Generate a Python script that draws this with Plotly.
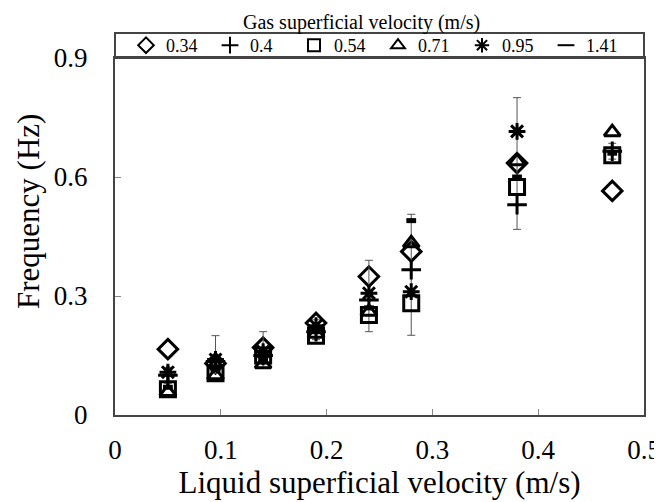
import plotly.graph_objects as go

# Liquid superficial velocity (m/s)
x_liquid = [0.05, 0.095, 0.14, 0.19, 0.24, 0.28, 0.38, 0.47]

# Frequency (Hz) for each gas superficial velocity
f_034 = [0.166, 0.13, 0.17, 0.232, 0.349, 0.412, 0.635, 0.565]
f_040 = [0.10, 0.135, 0.15, 0.21, 0.29, 0.366, 0.53, 0.665]
f_054 = [0.065, 0.105, 0.15, 0.20, 0.252, 0.282, 0.575, 0.655]
f_071 = [0.058, 0.10, 0.128, 0.205, 0.26, 0.433, 0.64, 0.713]
f_095 = [0.108, 0.14, 0.16, 0.225, 0.307, 0.311, 0.715, None]
f_141 = [0.07, 0.115, 0.14, 0.21, 0.27, 0.49, 0.60, 0.66]

# error bars (upper / lower)
err_plus = [0.02, 0.065, 0.06, 0.03, 0.10, 0.14, 0.27, 0.02]
err_minus = [0.02, 0.03, 0.03, 0.02, 0.08, 0.165, 0.062, 0.02]

series_names = ["0.34", "0.4", "0.54", "0.71", "0.95", "1.41"]
x_ticks = [0, 0.1, 0.2, 0.3, 0.4, 0.5]
y_ticks = [0, 0.3, 0.6, 0.9]

FONT = "Liberation Serif"
W, H = 654, 494  # page body adds an 8px offset
fig = go.Figure()

styles = [
    (f_034, "diamond-open", 15, 3),
    (f_040, "cross-thin-open", 14, 3),
    (f_054, "square-open", 15, 3),
    (f_071, "triangle-up-open", 14, 3),
    (f_095, "asterisk-open", 14, 3),
    (f_141, "line-ew-open", 7, 5),
]

for i, (vals, sym, sz, lw) in enumerate(styles):
    kw = {}
    if i == 1:
        kw["error_y"] = dict(type="data", symmetric=False, array=err_plus,
                             arrayminus=err_minus, color="#555555",
                             thickness=1, width=4)
    fig.add_trace(go.Scatter(
        x=x_liquid, y=vals, mode="markers", name=series_names[i],
        marker=dict(symbol=sym, size=sz, color="black",
                    line=dict(color="black", width=lw)),
        **kw))

fig.update_layout(
    width=W, height=H,
    margin=dict(l=107, r=18, t=50, b=87, autoexpand=False),
    paper_bgcolor="white", plot_bgcolor="white",
    font=dict(family=FONT, color="black"),
    showlegend=True,
    legend=dict(orientation="h", xref="container", yref="container",
                x=(126 - 8) / W, y=1 - (45.5 - 8) / H, xanchor="left", yanchor="middle",
                font=dict(family=FONT, size=18), entrywidth=39,
                bgcolor="rgba(0,0,0,0)", borderwidth=0,
                itemsizing="constant", tracegroupgap=0),
    xaxis=dict(range=[0, 0.5], tickvals=x_ticks,
               ticktext=["0", "0.1", "0.2", "0.3", "0.4", "0.5"],
               ticks="inside", ticklen=6, tickcolor="#888888",
               showline=True, linecolor="#444444", linewidth=2, mirror=True,
               showgrid=False, zeroline=False, automargin=False,
               ticklabelstandoff=10,
               tickfont=dict(family=FONT, size=27),
               title=dict(text="Liquid superficial velocity (m/s)",
                          font=dict(family=FONT, size=31), standoff=0)),
    yaxis=dict(range=[0, 0.9], tickvals=y_ticks,
               ticktext=["0", "0.3", "0.6", "0.9"],
               ticks="inside", ticklen=6, tickcolor="#888888",
               showline=True, linecolor="#444444", linewidth=2, mirror=True,
               showgrid=False, zeroline=False, automargin=False,
               ticklabelstandoff=20,
               tickfont=dict(family=FONT, size=27)),
    shapes=[dict(type="rect", xref="paper", yref="paper",
                 x0=0, x1=1, y0=1, y1=1 + 25 / 357,
                 line=dict(color="#444444", width=2))],
    annotations=[
        dict(text="Gas superficial velocity (m/s)", xref="paper", yref="paper",
             x=(361 - 115) / 529, y=(415 - 23) / 357, xanchor="center", yanchor="middle",
             showarrow=False, font=dict(family=FONT, size=20)),
        dict(text="Frequency (Hz)", xref="paper", yref="paper", textangle=-90,
             x=(28 - 115) / 529, y=(415 - 212) / 357, xanchor="center", yanchor="middle",
             showarrow=False, font=dict(family=FONT, size=31)),
    ],
)

fig.write_html("out.html")
